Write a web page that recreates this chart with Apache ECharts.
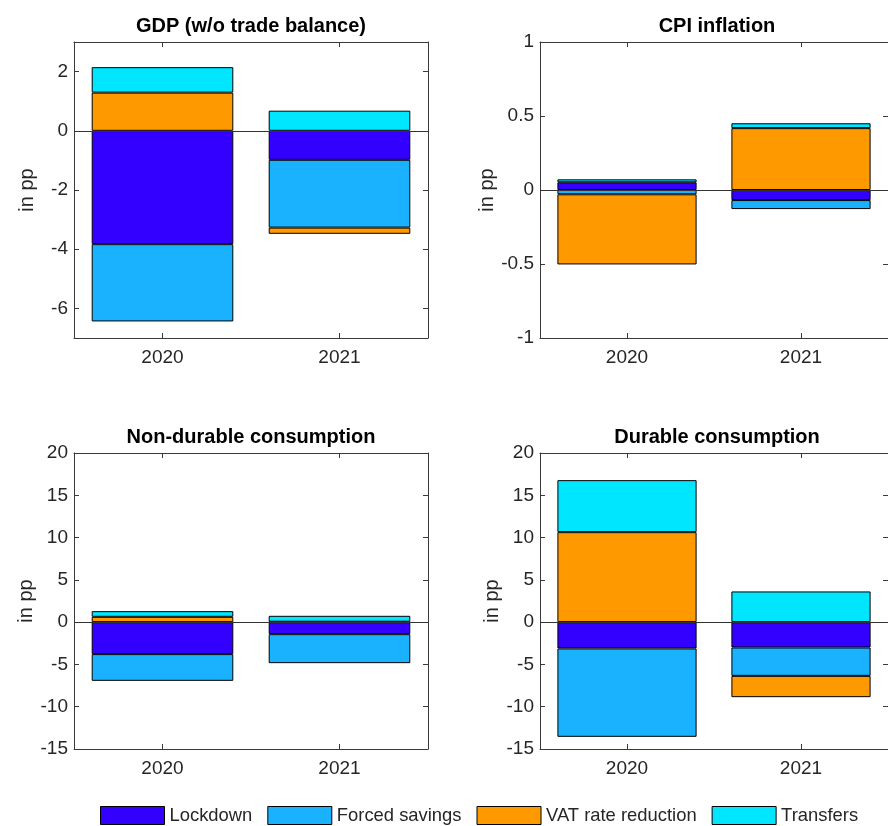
<!DOCTYPE html>
<html>
<head>
<meta charset="utf-8">
<script src="https://cdn.jsdelivr.net/npm/echarts@6/dist/echarts.min.js"></script>
<style>html,body{margin:0;padding:0;background:#fff;}#c{width:888px;height:826px;}</style>
</head>
<body>
<div id="c"></div>
<script>
var categories = ['2020', '2021'];
var seriesNames = ['Lockdown', 'Forced savings', 'VAT rate reduction', 'Transfers'];
var seriesColors = ['#3300FF', '#1AB2FF', '#FF9900', '#00E6FF'];
var panelTitles = ['GDP (w/o trade balance)', 'CPI inflation', 'Non-durable consumption', 'Durable consumption'];

var gdpLockdown = [-3.83, -0.98];
var gdpForced = [-2.61, -2.29];
var gdpVat = [1.29, -0.21];
var gdpTransfers = [0.86, 0.68];

var cpiLockdown = [0.052, -0.068];
var cpiForced = [-0.029, -0.061];
var cpiVat = [-0.474, 0.418];
var cpiTransfers = [0.02, 0.033];

var ndLockdown = [-3.78, -1.42];
var ndForced = [-3.16, -3.43];
var ndVat = [0.63, 0.05];
var ndTransfers = [0.67, 0.70];

var durLockdown = [-3.11, -3.0];
var durForced = [-10.45, -3.35];
var durVat = [10.64, -2.52];
var durTransfers = [6.15, 3.63];

var yMin = [-7, -1, -15, -15];
var yMax = [3, 1, 20, 20];
var yTicks = [[-6, -4, -2, 0, 2], [-1, -0.5, 0, 0.5, 1], [-15, -10, -5, 0, 5, 10, 15, 20], [-15, -10, -5, 0, 5, 10, 15, 20]];

var panelData = [
  [gdpLockdown, gdpForced, gdpVat, gdpTransfers],
  [cpiLockdown, cpiForced, cpiVat, cpiTransfers],
  [ndLockdown, ndForced, ndVat, ndTransfers],
  [durLockdown, durForced, durVat, durTransfers]
];

var FONT = '"Liberation Sans", Arial, Helvetica, sans-serif';
var TXT = '#262626';
var AX = '#3a3a3a';
var gridPos = [
  {left: 74, top: 42, width: 354, height: 296},
  {left: 540, top: 42, width: 354, height: 296},
  {left: 74, top: 453, width: 354, height: 296},
  {left: 540, top: 453, width: 354, height: 296}
];

var grids = [], xAxes = [], yAxes = [], series = [], titles = [];
for (var p = 0; p < 4; p++) {
  grids.push(Object.assign({containLabel: false}, gridPos[p]));
  titles.push({
    text: panelTitles[p],
    left: gridPos[p].left + gridPos[p].width / 2,
    top: gridPos[p].top - 26,
    textAlign: 'center',
    padding: 0,
    textStyle: {fontFamily: FONT, fontSize: 20, fontWeight: 'bold', color: '#000'}
  });
  var axLine = {show: true, onZero: false, lineStyle: {color: AX, width: 1}};
  xAxes.push({
    type: 'category', gridIndex: p, data: categories, position: 'bottom',
    axisLine: axLine,
    axisTick: {show: true, inside: true, alignWithLabel: true, length: 5, lineStyle: {color: AX}},
    axisLabel: {fontFamily: FONT, fontSize: 19, color: TXT, margin: 10},
    splitLine: {show: false}
  });
  xAxes.push({
    type: 'category', gridIndex: p, data: categories, position: 'top',
    axisLine: axLine,
    axisTick: {show: true, inside: true, alignWithLabel: true, length: 5, lineStyle: {color: AX}},
    axisLabel: {show: false},
    splitLine: {show: false}
  });
  yAxes.push({
    type: 'value', gridIndex: p, min: yMin[p], max: yMax[p], position: 'left',
    name: 'in pp', nameLocation: 'middle', nameGap: 37,
    nameTextStyle: {fontFamily: FONT, fontSize: 20, color: TXT},
    axisLine: axLine,
    axisTick: {show: true, inside: true, length: 5, lineStyle: {color: AX}, customValues: yTicks[p]},
    axisLabel: {fontFamily: FONT, fontSize: 19, color: TXT, margin: 6, customValues: yTicks[p]},
    splitLine: {show: false}
  });
  yAxes.push({
    type: 'value', gridIndex: p, min: yMin[p], max: yMax[p], position: 'right',
    axisLine: axLine,
    axisTick: {show: true, inside: true, length: 5, lineStyle: {color: AX}, customValues: yTicks[p]},
    axisLabel: {show: false},
    splitLine: {show: false}
  });
  for (var s = 0; s < 4; s++) {
    var ser = {
      type: 'bar', name: seriesNames[s], stack: 'panel' + p,
      xAxisIndex: p * 2, yAxisIndex: p * 2,
      data: panelData[p][s],
      barWidth: '80%',
      itemStyle: {color: seriesColors[s], borderColor: '#000', borderWidth: 1},
      emphasis: {disabled: true},
      animation: false
    };
    if (s === 0) {
      ser.markLine = {
        silent: true, symbol: ['none', 'none'], label: {show: false},
        lineStyle: {color: '#333', width: 1, type: 'solid'},
        data: [{yAxis: 0}], animation: false
      };
    }
    series.push(ser);
  }
}

var chart = echarts.init(document.getElementById('c'));
chart.setOption({
  animation: false,
  backgroundColor: '#fff',
  title: titles,
  grid: grids,
  xAxis: xAxes,
  yAxis: yAxes,
  legend: {
    data: seriesNames,
    left: 100, top: 806,
    itemWidth: 64, itemHeight: 18, itemGap: 15,
    icon: 'rect',
    itemStyle: {borderWidth: 1, borderColor: '#000'},
    textStyle: {fontFamily: FONT, fontSize: 18.4, color: TXT},
    padding: 0
  },
  series: series
});
</script>
</body>
</html>
